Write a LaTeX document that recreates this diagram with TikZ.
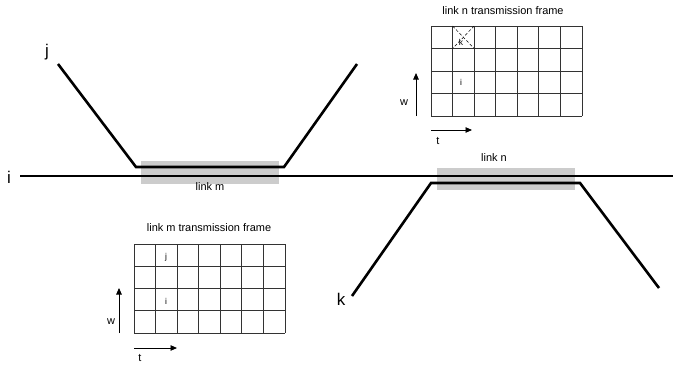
\documentclass[tikz,border=0pt]{standalone}
\usepackage{fontspec}
\setmainfont{Liberation Sans}
\usetikzlibrary{arrows.meta}
\begin{document}
\begin{tikzpicture}[x=1bp,y=-1bp,
  route/.style={line width=2.6bp,black,line join=miter},
  band/.style={fill=black!20,draw=none},
  gridline/.style={draw=black!80,line width=1bp},
  axis/.style={line width=0.9bp,-{Triangle[length=6.5bp,width=5.5bp]}},
  big/.style={font=\fontsize{17}{19}\selectfont,inner sep=0pt},
  lbl/.style={font=\fontsize{11}{13}\selectfont,inner sep=0pt},
  cell/.style={font=\fontsize{8.5}{10}\selectfont,inner sep=0pt}]
\useasboundingbox (0,0) rectangle (673,366);
% gray bands
\fill[band] (141,161) rectangle (279,184);
\fill[band] (437,168) rectangle (575,190);
% route coordinates
\coordinate (j1) at (58,64);
\coordinate (j2) at (136,167);
\coordinate (j3) at (284,167);
\coordinate (j4) at (357,64);
\coordinate (i1) at (20,176);
\coordinate (i2) at (673,176);
\coordinate (k1) at (352,296);
\coordinate (k2) at (431,183);
\coordinate (k3) at (580,183);
\coordinate (k4) at (659,288);
\draw[route] (i1) -- (i2);
\draw[route] (j1) -- (j2) -- (j3) -- (j4);
\draw[route] (k1) -- (k2) -- (k3) -- (k4);
% big labels
\node[big] (li) at (9,177) {i};
\node[big] (lj) at (47,52) {j};
\node[big] (lk) at (341,299) {k};
\node[lbl] (lm) at (210,187) {link m};
\node[lbl] (ln) at (494,158) {link n};
% top frame
\node[lbl] (tn) at (503,11) {link n transmission frame};
\foreach \c in {0,...,7} \draw[gridline] ({431+\c*151/7},26) -- ({431+\c*151/7},116);
\foreach \r in {0,...,4} \draw[gridline] (431,{26+\r*90/4}) -- (582,{26+\r*90/4});
\coordinate (xa) at ({431+151/7},26);
\coordinate (xb) at ({431+2*151/7},48.5);
\coordinate (xc) at ({431+2*151/7},26);
\coordinate (xd) at ({431+151/7},48.5);
\draw[densely dashed,line width=0.5bp] (xa) -- (xb);
\draw[densely dashed,line width=0.5bp] (xc) -- (xd);
\node[cell] (nk) at (461,42) {k};
\node[cell] (ni) at (461,82) {i};
\coordinate (wn0) at (416,116);
\coordinate (wn1) at (416,73);
\draw[axis] (wn0) -- (wn1);
\node[lbl] (wn) at (404,103) {w};
\coordinate (tn0) at (431,130);
\coordinate (tn1) at (472,130);
\draw[axis] (tn0) -- (tn1);
\node[lbl] (tnl) at (438,141) {t};
% bottom frame
\node[lbl] (tm) at (209,228) {link m transmission frame};
\foreach \c in {0,...,7} \draw[gridline] ({134+\c*151/7},244) -- ({134+\c*151/7},333);
\foreach \r in {0,...,4} \draw[gridline] (134,{244+\r*89/4}) -- (285,{244+\r*89/4});
\node[cell] (mj) at (166,257) {j};
\node[cell] (mi) at (166,301) {i};
\coordinate (wm0) at (119,333);
\coordinate (wm1) at (119,288);
\draw[axis] (wm0) -- (wm1);
\node[lbl] (wm) at (111,322) {w};
\coordinate (tm0) at (134,348);
\coordinate (tm1) at (177,348);
\draw[axis] (tm0) -- (tm1);
\node[lbl] (tml) at (140,358) {t};
\end{tikzpicture}
\end{document}
